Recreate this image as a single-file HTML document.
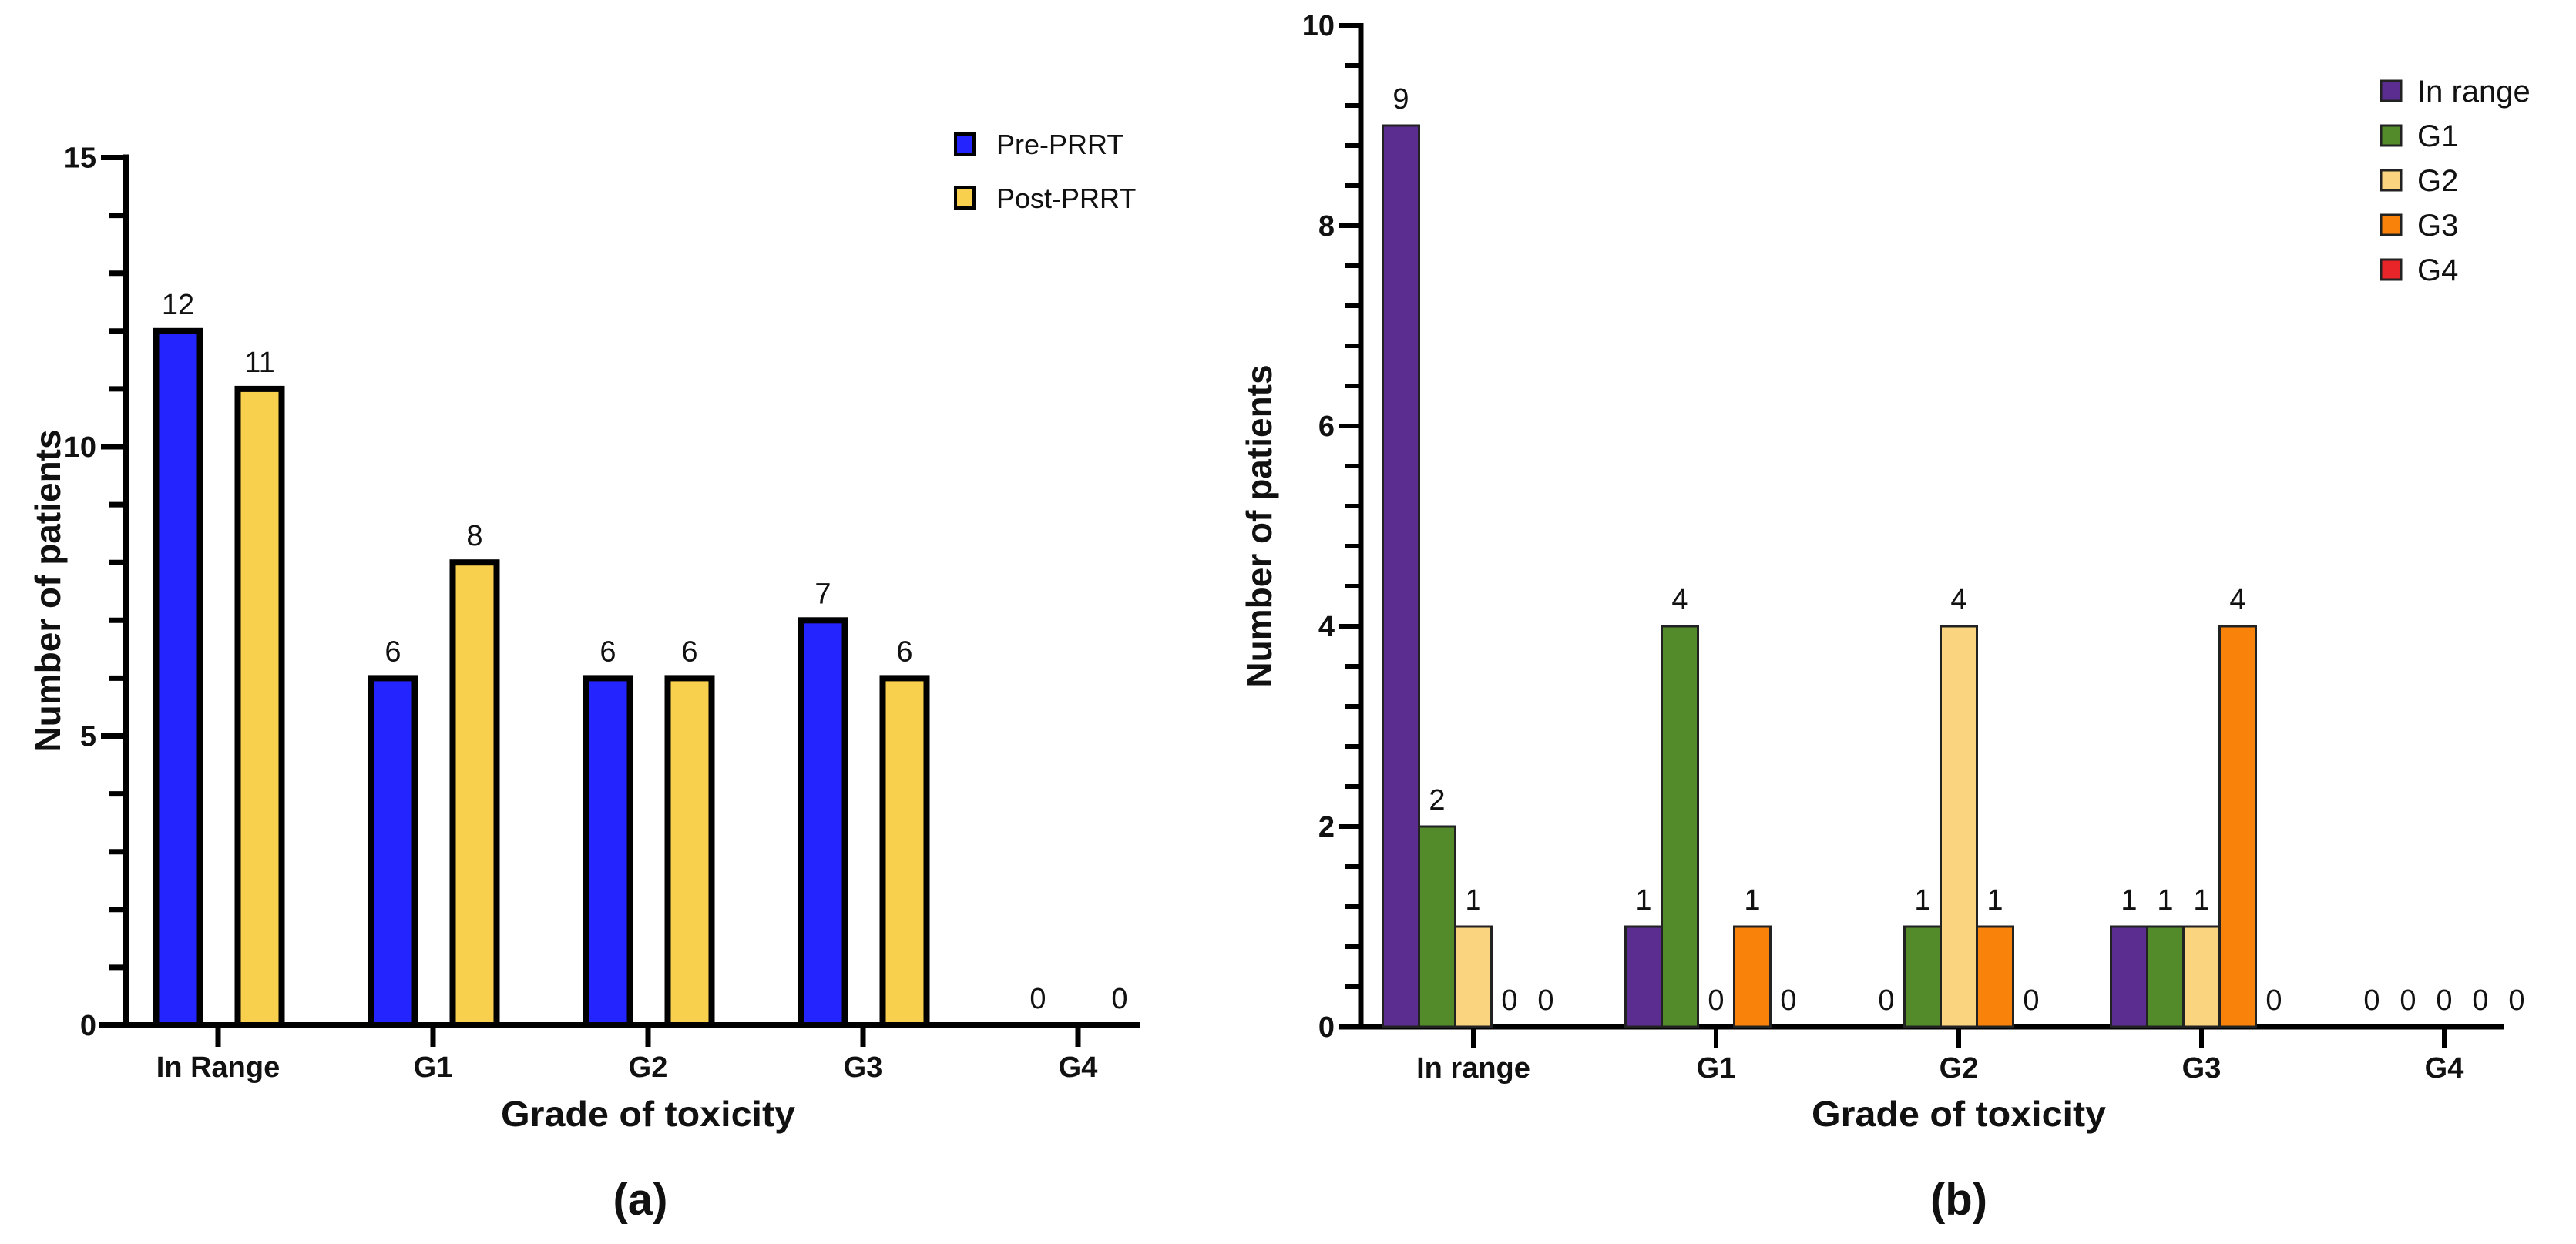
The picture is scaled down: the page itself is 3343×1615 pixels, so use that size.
<!DOCTYPE html>
<html><head><meta charset="utf-8"><style>
html,body{margin:0;padding:0;background:#fff;}
svg{display:block;}
text{font-family:"Liberation Sans",Arial,sans-serif;fill:#111;}
.b{font-weight:bold;}
</style></head><body>
<svg id="fig" width="3343" height="1615" viewBox="0 0 3343 1615" xmlns="http://www.w3.org/2000/svg">
<g id="chartA"></g>
<g id="chartB"></g>
</svg>
<script>
// ---- Chart (a) data ----
const catsA = ["In Range","G1","G2","G3","G4"];
const preA = [12,6,6,7,0];
const postA = [11,8,6,6,0];
const seriesNamesA = ["Pre-PRRT","Post-PRRT"];
const yTicksA = [0,5,10,15];
// ---- Chart (b) data ----
const catsB = ["In range","G1","G2","G3","G4"];
const bInRange = [9,1,0,1,0];
const bG1 = [2,4,1,1,0];
const bG2 = [1,0,4,1,0];
const bG3 = [0,1,1,4,0];
const bG4 = [0,0,0,0,0];
const seriesNamesB = ["In range","G1","G2","G3","G4"];
const yTicksB = [0,2,4,6,8,10];

const NS="http://www.w3.org/2000/svg";
function mk(parent,tag,attrs,txt){const e=document.createElementNS(NS,tag);for(const k in attrs)e.setAttribute(k,attrs[k]);if(txt!==undefined)e.textContent=txt;parent.appendChild(e);return e;}

// ===== Chart A =====
(function(){
const g=document.getElementById('chartA');
const x0=163, y0=1331, unit=75.1, tick0=283, step=279, xEnd=1480;
const yA=v=>y0-v*unit;
const xA=i=>tick0+i*step;
let e=mk(g,'line',{x1:x0,y1:yA(15)-4,x2:x0,y2:y0+4,stroke:'#000','stroke-width':8});

e=mk(g,'line',{x1:x0-35,y1:y0,x2:xEnd,y2:y0,stroke:'#000','stroke-width':8});

for(let v=0;v<=15;v++){
  const major=yTicksA.includes(v);
  e=mk(g,'line',{x1:x0-(major?32:22),y1:yA(v),x2:x0,y2:yA(v),stroke:'#000','stroke-width':7});
  
}
yTicksA.forEach(v=>{
  e=mk(g,'text',{x:x0-38,y:yA(v)+13,'text-anchor':'end','font-size':38,class:'b'},String(v));
  
});
catsA.forEach((c,i)=>{
  e=mk(g,'line',{x1:xA(i),y1:y0,x2:xA(i),y2:y0+28,stroke:'#000','stroke-width':7});
  
  e=mk(g,'text',{x:xA(i),y:y0+67,'text-anchor':'middle','font-size':38,class:'b'},c);
  
});
const colsA=['#2424ff','#f9cf4e'];
[preA,postA].forEach((arr,s)=>{
  arr.forEach((v,i)=>{
    const cx=xA(i)+(s===0?-52:54), w=57;
    if(v>0){
      e=mk(g,'rect',{x:cx-w/2,y:yA(v),width:w,height:v*unit,fill:colsA[s],stroke:'#000','stroke-width':8});
      
    }
    e=mk(g,'text',{x:cx,y:yA(v)-22,'text-anchor':'middle','font-size':38},String(v));
    
  });
});
seriesNamesA.forEach((n,s)=>{
  const ly=187+s*70;
  e=mk(g,'rect',{x:1240,y:ly-13,width:24,height:26,fill:colsA[s],stroke:'#000','stroke-width':4});
  
  e=mk(g,'text',{x:1293,y:ly+13,'font-size':36},n);
  
});
e=mk(g,'text',{x:xA(2)-191,y:1462,'font-size':46,class:'b',textLength:382,lengthAdjust:'spacingAndGlyphs'},'Grade of toxicity');

e=mk(g,'text',{x:0,y:0,'text-anchor':'middle','font-size':46,class:'b',transform:'translate(78,767) rotate(-90)'},'Number of patients');

e=mk(g,'text',{x:xA(2)-10,y:1577,'text-anchor':'middle','font-size':58,class:'b'},'(a)');

})();

// ===== Chart B =====
(function(){
const g=document.getElementById('chartB');
const x0=1766, y0=1333, unit=130, tick0=1912, step=315, xEnd=3250, bw=47;
const yB=v=>y0-v*unit;
const xB=i=>tick0+i*step;
let e=mk(g,'line',{x1:x0,y1:yB(10)-3,x2:x0,y2:y0+3,stroke:'#000','stroke-width':7});

e=mk(g,'line',{x1:x0-28,y1:y0,x2:xEnd,y2:y0,stroke:'#000','stroke-width':7});

for(let k=0;k<=25;k++){
  const v=k*0.4, major=(k%5===0);
  e=mk(g,'line',{x1:x0-(major?28:20),y1:yB(v),x2:x0,y2:yB(v),stroke:'#000','stroke-width':6});
  
}
yTicksB.forEach(v=>{
  e=mk(g,'text',{x:x0-34,y:yB(v)+13,'text-anchor':'end','font-size':38,class:'b'},String(v));
  
});
catsB.forEach((c,i)=>{
  e=mk(g,'line',{x1:xB(i),y1:y0,x2:xB(i),y2:y0+28,stroke:'#000','stroke-width':6});
  
  e=mk(g,'text',{x:xB(i),y:y0+66,'text-anchor':'middle','font-size':38,class:'b'},c);
  
});
const colsB=['#5c2d91','#548b2a','#fbd47f','#f9830a','#e8262a'];
[bInRange,bG1,bG2,bG3,bG4].forEach((arr,s)=>{
  arr.forEach((v,i)=>{
    const cx=xB(i)+(s-2)*bw;
    if(v>0){
      e=mk(g,'rect',{x:cx-bw/2,y:yB(v),width:bw,height:v*unit,fill:colsB[s],stroke:'#222','stroke-width':3});
      
    }
    e=mk(g,'text',{x:cx,y:yB(v)-22,'text-anchor':'middle','font-size':38},String(v));
    
  });
});
seriesNamesB.forEach((n,s)=>{
  const ly=118+s*58;
  e=mk(g,'rect',{x:3090,y:ly-13,width:26,height:26,fill:colsB[s],stroke:'#222','stroke-width':3});
  
  e=mk(g,'text',{x:3137,y:ly+14,'font-size':40},n);
  
});
e=mk(g,'text',{x:xB(2)-191,y:1462,'font-size':46,class:'b',textLength:382,lengthAdjust:'spacingAndGlyphs'},'Grade of toxicity');

e=mk(g,'text',{x:0,y:0,'text-anchor':'middle','font-size':46,class:'b',transform:'translate(1650,683) rotate(-90)'},'Number of patients');

e=mk(g,'text',{x:xB(2),y:1577,'text-anchor':'middle','font-size':58,class:'b'},'(b)');

})();
</script>
</body></html>
